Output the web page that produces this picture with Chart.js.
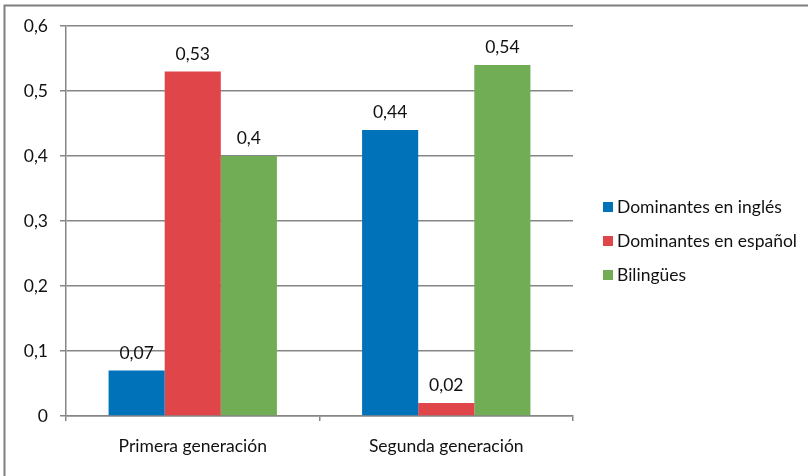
<!DOCTYPE html>
<html>
<head>
<meta charset="utf-8">
<script src="https://cdn.jsdelivr.net/npm/chart.js@4/dist/chart.umd.min.js"></script>
<style>
html,body{margin:0;padding:0;background:#fff;}
canvas{display:block;}
</style>
</head>
<body>
<canvas id="c" width="808" height="476"></canvas>
<script>
const categories = ['Primera generación', 'Segunda generación'];
const seriesNames = ['Dominantes en inglés', 'Dominantes en español', 'Bilingües'];
const englishDominant = [0.07, 0.44];
const spanishDominant = [0.53, 0.02];
const bilingual = [0.4, 0.54];
const seriesColors = ['#0072B9', '#DF4549', '#70AD55'];
const yTicks = [0, 0.1, 0.2, 0.3, 0.4, 0.5, 0.6];

const FONT = 'Lato, "Open Sans", sans-serif';
const FS = 17.5;
const GRID = '#868686';
const fmt = v => String(Math.round(v * 100) / 100).replace('.', ',');

const framePlugin = {
  id: 'frame',
  beforeDraw(chart) {
    const ctx = chart.ctx;
    ctx.save();
    ctx.fillStyle = '#fff';
    ctx.fillRect(0, 0, chart.width, chart.height);
    ctx.strokeStyle = '#7f7f7f';
    ctx.lineWidth = 2;
    ctx.beginPath();
    ctx.moveTo(4.5, chart.height);
    ctx.lineTo(4.5, 5.5);
    ctx.lineTo(chart.width, 5.5);
    ctx.stroke();
    ctx.restore();
  }
};

const labelPlugin = {
  id: 'valueLabels',
  afterDatasetsDraw(chart) {
    const ctx = chart.ctx;
    ctx.save();
    ctx.font = FS + 'px ' + FONT;
    ctx.fillStyle = '#111';
    ctx.textAlign = 'center';
    ctx.textBaseline = 'alphabetic';
    chart.data.datasets.forEach((ds, i) => {
      chart.getDatasetMeta(i).data.forEach((el, j) => {
        ctx.fillText(fmt(ds.data[j]), el.x, el.y - 12);
      });
    });
    ctx.restore();
  }
};

const legendPlugin = {
  id: 'sideLegend',
  afterDraw(chart) {
    const ctx = chart.ctx;
    ctx.save();
    ctx.font = FS + 'px ' + FONT;
    ctx.textBaseline = 'middle';
    ctx.textAlign = 'left';
    chart.data.datasets.forEach((ds, i) => {
      const y = 207 + i * 34;
      ctx.fillStyle = ds.backgroundColor;
      ctx.fillRect(603, y - 5, 10, 10);
      ctx.fillStyle = '#111';
      ctx.fillText(ds.label, 617, y);
    });
    ctx.restore();
  }
};

const seriesData = [englishDominant, spanishDominant, bilingual];

new Chart(document.getElementById('c'), {
  type: 'bar',
  data: {
    labels: categories,
    datasets: seriesNames.map((n, i) => ({
      label: n,
      data: seriesData[i],
      backgroundColor: seriesColors[i],
      borderWidth: 0,
      categoryPercentage: 0.664,
      barPercentage: 1
    }))
  },
  options: {
    responsive: false,
    animation: false,
    devicePixelRatio: 1,
    layout: { padding: { left: 0, top: 26, right: 235, bottom: 0 } },
    plugins: { legend: { display: false }, tooltip: { enabled: false } },
    scales: {
      x: {
        afterFit: s => { s.height = 60; },
        grid: { offset: true, drawOnChartArea: false, drawTicks: true, tickLength: 5, color: GRID, lineWidth: 1.5 },
        border: { display: true, color: GRID, width: 1.5 },
        ticks: { color: '#111', font: { family: FONT, size: FS }, padding: 15 }
      },
      y: {
        min: 0, max: 0.6,
        afterFit: s => { s.width = 66; },
        afterBuildTicks: s => { s.ticks = yTicks.map(v => ({ value: v })); },
        grid: { color: GRID, lineWidth: 1.5, tickLength: 6, drawTicks: true },
        border: { display: true, color: GRID, width: 1.5 },
        ticks: { color: '#111', font: { family: FONT, size: FS }, padding: 12, callback: v => fmt(v) }
      }
    }
  },
  plugins: [framePlugin, labelPlugin, legendPlugin]
});
</script>
</body>
</html>
